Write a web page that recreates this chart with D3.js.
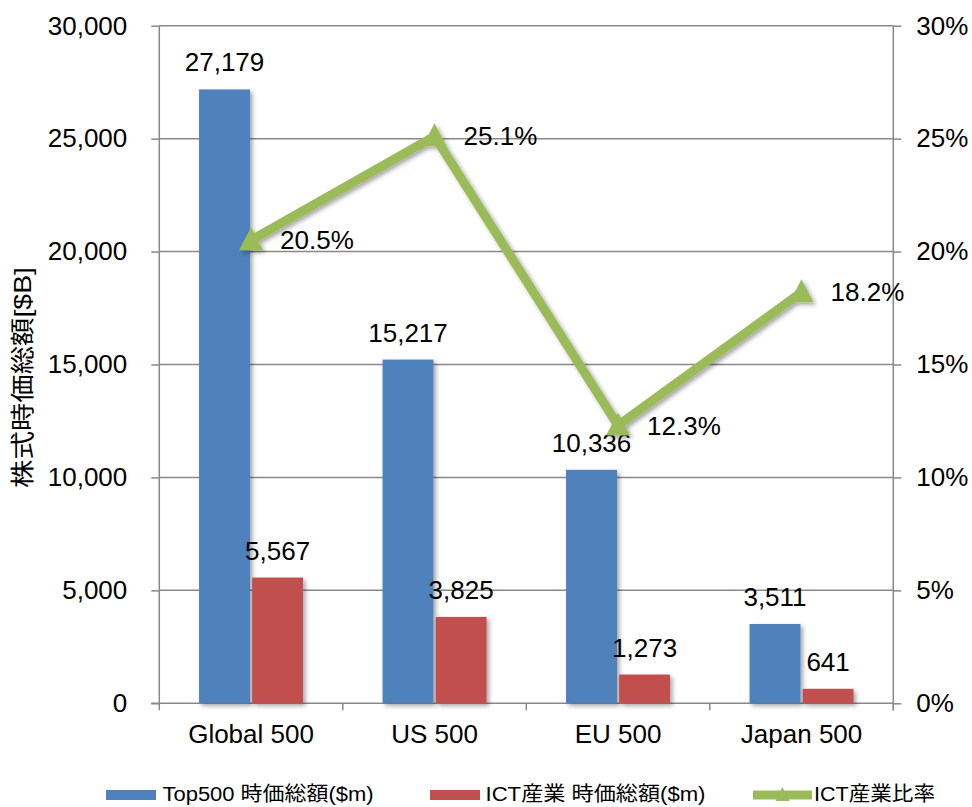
<!DOCTYPE html>
<html>
<head>
<meta charset="utf-8">
<script src="https://cdn.jsdelivr.net/npm/d3@7"></script>
<style>
  html, body { margin: 0; padding: 0; background: #fff; }
  svg { display: block; font-family: "Liberation Sans", Arial, "Noto Sans CJK JP", sans-serif; }
</style>
</head>
<body>
<svg id="chart" width="972" height="807"></svg>
<script>
// Market capitalisation of top-500 companies and the ICT share
const categories = ["Global 500", "US 500", "EU 500", "Japan 500"];
const top500Cap = [27179, 15217, 10336, 3511];
const ictCap = [5567, 3825, 1273, 641];
const ictRatio = [0.205, 0.251, 0.123, 0.182];
const leftTicks = [0, 5000, 10000, 15000, 20000, 25000, 30000];
const rightTicks = [0, 0.05, 0.10, 0.15, 0.20, 0.25, 0.30];
const seriesNames = ["Top500 時価総額($m)", "ICT産業 時価総額($m)", "ICT産業比率"];
const yTitle = "株式時価総額[$B]";

const W = 972, H = 807;
const margin = { top: 25.7, right: 78.7, bottom: 103.7, left: 159.3 };
const iw = W - margin.left - margin.right;
const ih = H - margin.top - margin.bottom;

const BLUE = "#4F81BD", RED = "#C0504D", GREEN = "#9BBB59", GRID = "#898989";
const FONT = 26;

const svg = d3.select("#chart");
const defs = svg.append("defs");
const shadow = defs.append("filter").attr("id", "shadow")
  .attr("x", "-20%").attr("y", "-20%").attr("width", "150%").attr("height", "150%");
shadow.append("feDropShadow").attr("dx", 2.5).attr("dy", 2.5)
  .attr("stdDeviation", 2).attr("flood-color", "#000").attr("flood-opacity", 0.35);

const g = svg.append("g").attr("transform", `translate(${margin.left},${margin.top})`);

const x0 = d3.scaleBand().domain(categories).range([0, iw]).paddingInner(0).paddingOuter(0);
const groupW = 104;
const x1 = d3.scaleBand().domain(["top", "ict"]).range([0, groupW]).paddingInner(0.04);
const y = d3.scaleLinear().domain([0, 30000]).range([ih, 0]);
const y2 = d3.scaleLinear().domain([0, 0.30]).range([ih, 0]);

// horizontal gridlines
g.append("g").selectAll("line").data(leftTicks.slice(1)).join("line")
  .attr("x1", 0).attr("x2", iw)
  .attr("y1", d => y(d)).attr("y2", d => y(d))
  .attr("stroke", GRID).attr("stroke-width", 1.5);

// left axis
const yAxis = g.append("g")
  .call(d3.axisLeft(y).tickValues(leftTicks).tickFormat(d3.format(",")).tickSize(8).tickPadding(24));
yAxis.select(".domain").remove();
yAxis.selectAll(".tick line").attr("stroke", GRID).attr("stroke-width", 1.5);
yAxis.selectAll("text").attr("font-size", FONT).attr("fill", "#000").attr("font-family", "Liberation Sans, Arial, sans-serif");
g.append("line").attr("x1", 0).attr("x2", 0).attr("y1", 0).attr("y2", ih)
  .attr("stroke", GRID).attr("stroke-width", 1.5);

// right axis
const y2Axis = g.append("g").attr("transform", `translate(${iw},0)`)
  .call(d3.axisRight(y2).tickValues(rightTicks).tickFormat(d3.format(".0%")).tickSize(8).tickPadding(15));
y2Axis.select(".domain").remove();
y2Axis.selectAll(".tick line").attr("stroke", GRID).attr("stroke-width", 1.5);
y2Axis.selectAll("text").attr("font-size", FONT).attr("fill", "#000").attr("font-family", "Liberation Sans, Arial, sans-serif");
g.append("line").attr("x1", iw).attr("x2", iw).attr("y1", 0).attr("y2", ih + 7)
  .attr("stroke", GRID).attr("stroke-width", 1.5);

// bottom axis: baseline, boundary ticks, category labels
g.append("line").attr("x1", -8).attr("x2", iw).attr("y1", ih).attr("y2", ih)
  .attr("stroke", GRID).attr("stroke-width", 1.5);
const bounds = categories.map(c => x0(c)).concat([iw]);
g.append("g").selectAll("line").data(bounds).join("line")
  .attr("x1", d => d).attr("x2", d => d).attr("y1", ih).attr("y2", ih + 7)
  .attr("stroke", GRID).attr("stroke-width", 1.5);
g.append("g").selectAll("text").data(categories).join("text")
  .attr("x", d => x0(d) + x0.bandwidth() / 2)
  .attr("y", ih + 40)
  .attr("text-anchor", "middle")
  .attr("font-size", FONT)
  .text(d => d);

// bars
const groupOffset = (x0.bandwidth() - groupW) / 2;
const barData = categories.flatMap((c, i) => [
  { c, key: "top", v: top500Cap[i], color: BLUE },
  { c, key: "ict", v: ictCap[i], color: RED }
]);
g.append("g").attr("filter", "url(#shadow)").selectAll("rect").data(barData).join("rect")
  .attr("x", d => x0(d.c) + groupOffset + x1(d.key))
  .attr("y", d => y(d.v))
  .attr("width", x1.bandwidth())
  .attr("height", d => ih - y(d.v))
  .attr("fill", d => d.color);

// bar value labels
g.append("g").selectAll("text").data(barData).join("text")
  .attr("x", d => x0(d.c) + groupOffset + x1(d.key) + x1.bandwidth() / 2)
  .attr("y", d => y(d.v) - 18)
  .attr("text-anchor", "middle")
  .attr("font-size", FONT)
  .text(d => d3.format(",")(d.v));

// ratio line with triangle markers
const pts = categories.map((c, i) => ({ x: x0(c) + x0.bandwidth() / 2, y: y2(ictRatio[i]), v: ictRatio[i] }));
const tri = "M0,-13L12,10L-12,10Z";
const lineG = g.append("g").attr("filter", "url(#shadow)");
lineG.append("path")
  .datum(pts)
  .attr("d", d3.line().x(d => d.x).y(d => d.y))
  .attr("fill", "none").attr("stroke", GREEN).attr("stroke-width", 9)
  .attr("stroke-linejoin", "miter");
lineG.selectAll(".mk").data(pts).join("path").attr("class", "mk")
  .attr("d", tri)
  .attr("transform", d => `translate(${d.x},${d.y})`)
  .attr("fill", GREEN);

g.append("g").selectAll("text").data(pts).join("text")
  .attr("x", d => d.x + 29)
  .attr("y", d => d.y)
  .attr("dy", "0.35em")
  .attr("font-size", FONT)
  .text(d => d3.format(".1%")(d.v));

// y-axis title
svg.append("text")
  .attr("transform", `translate(31,${377.5}) rotate(-90)`)
  .attr("text-anchor", "middle")
  .attr("font-size", 24)
  .attr("textLength", 221).attr("lengthAdjust", "spacingAndGlyphs")
  .text(yTitle);

// legend
const legend = svg.append("g");
const legY = 795;
const items = [
  { name: seriesNames[0], type: "bar", color: BLUE, sx: 106, sw: 50, tx: 162.5, tw: 211 },
  { name: seriesNames[1], type: "bar", color: RED, sx: 430, sw: 50, tx: 485.5, tw: 220 },
  { name: seriesNames[2], type: "line", color: GREEN, sx: 753, sw: 59, tx: 814, tw: 121 }
];
items.forEach(it => {
  if (it.type === "bar") {
    legend.append("rect").attr("x", it.sx).attr("y", legY - 5).attr("width", it.sw).attr("height", 10)
      .attr("fill", it.color);
  } else {
    legend.append("line").attr("x1", it.sx).attr("x2", it.sx + it.sw).attr("y1", legY).attr("y2", legY)
      .attr("stroke", it.color).attr("stroke-width", 9);
    legend.append("path").attr("d", "M0,-8L7,6L-7,6Z")
      .attr("transform", `translate(${it.sx + it.sw / 2},${legY})`).attr("fill", it.color);
  }
  legend.append("text").attr("x", it.tx).attr("y", legY + 6)
    .attr("font-size", 20)
    .attr("textLength", it.tw).attr("lengthAdjust", "spacingAndGlyphs")
    .text(it.name);
});
</script>
</body>
</html>
